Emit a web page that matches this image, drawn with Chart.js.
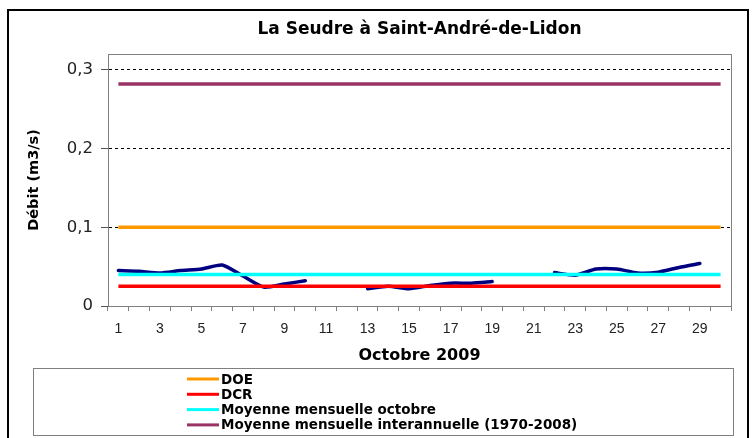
<!DOCTYPE html>
<html>
<head>
<meta charset="utf-8">
<script src="https://cdn.jsdelivr.net/npm/chart.js@4/dist/chart.umd.min.js"></script>
<style>
  html, body { margin: 0; padding: 0; background: #fff; }
  #chart { display: block; }
</style>
</head>
<body>
<canvas id="chart" width="755" height="438"></canvas>
<script>
// days of October 2009
var days = ['1', '2', '3', '4', '5', '6', '7', '8', '9', '10',
            '11', '12', '13', '14', '15', '16', '17', '18', '19', '20',
            '21', '22', '23', '24', '25', '26', '27', '28', '29', '30'];

// daily flow (m3/s), null = no measure
var debit = [0.045, 0.044, 0.042, 0.045, 0.047, 0.052, 0.038, 0.024, 0.028, 0.032,
             null, null, 0.022, 0.025, 0.022, 0.026, 0.029, 0.029, 0.031, null,
             null, 0.0425, 0.039, 0.047, 0.047, 0.042, 0.043, 0.049, 0.054, null];

// reference levels
var doe = 0.1;
var dcr = 0.025;
var moyOctobre = 0.04;
var moyInterannuelle = 0.282;

var yTicks = [0, 0.1, 0.2, 0.3];

var first = days[0];
var last = days[days.length - 1];

var wideFont = '"DejaVu Sans", Verdana, sans-serif';
Chart.defaults.font.family = '"Liberation Sans", Arial, sans-serif';
Chart.defaults.color = '#222';

var framePlugin = {
    id: 'frame',
    beforeDraw: function (chart) {
        var ctx = chart.ctx;
        ctx.save();
        ctx.fillStyle = '#fff';
        ctx.fillRect(0, 0, chart.width, chart.height);
        ctx.restore();
    },
    beforeDatasetsDraw: function (chart) {
        var a = chart.chartArea;
        var ctx = chart.ctx;
        ctx.save();
        ctx.strokeStyle = '#808080';
        ctx.lineWidth = 1;
        ctx.strokeRect(Math.round(a.left) + 0.5, Math.round(a.top) + 0.5,
            Math.round(a.right - a.left), Math.round(a.bottom - a.top));
        ctx.restore();
    },
    afterDraw: function (chart) {
        var ctx = chart.ctx;
        ctx.save();
        // outer frame
        ctx.strokeStyle = '#000';
        ctx.lineWidth = 2;
        ctx.strokeRect(8, 10, 740, 440);

        // legend box
        ctx.strokeStyle = '#808080';
        ctx.lineWidth = 1;
        ctx.strokeRect(33.5, 368.5, 700, 67);

        ctx.font = 'bold 13.5px ' + wideFont;
        ctx.textBaseline = 'middle';
        ctx.textAlign = 'left';
        var row = 0;
        chart.data.datasets.forEach(function (ds) {
            if (ds.label === 'Débit') return;
            var y = 379 + row * 15.3;
            ctx.strokeStyle = ds.borderColor;
            ctx.lineWidth = 3;
            ctx.beginPath();
            ctx.moveTo(187, y);
            ctx.lineTo(219, y);
            ctx.stroke();
            ctx.fillStyle = '#000';
            ctx.fillText(ds.label, 221, y + 1);
            row++;
        });
        ctx.restore();
    }
};

function levelLine(label, value, color) {
    return {
        label: label,
        data: [{ x: first, y: value }, { x: last, y: value }],
        borderColor: color,
        backgroundColor: color,
        borderWidth: 3.5,
        pointRadius: 0,
        fill: false
    };
}

var chart = new Chart(document.getElementById('chart'), {
    type: 'line',
    plugins: [framePlugin],
    data: {
        labels: days,
        datasets: [
            levelLine('DOE', doe, '#FF9900'),
            levelLine('DCR', dcr, '#FF0000'),
            levelLine('Moyenne mensuelle octobre', moyOctobre, '#00FFFF'),
            levelLine('Moyenne mensuelle interannuelle (1970-2008)', moyInterannuelle, '#993366'),
            {
                label: 'Débit',
                data: debit,
                borderColor: '#000080',
                backgroundColor: '#000080',
                borderWidth: 3.5,
                borderCapStyle: 'round',
                borderJoinStyle: 'round',
                tension: 0.2,
                pointRadius: 0,
                fill: false
            }
        ]
    },
    options: {
        responsive: false,
        animation: false,
        layout: {
            padding: { left: 0, right: 24, top: 0, bottom: 73 }
        },
        plugins: {
            legend: { display: false },
            tooltip: { enabled: false },
            title: {
                display: true,
                fullSize: false,
                text: 'La Seudre à Saint-André-de-Lidon',
                color: '#000',
                font: { family: wideFont, size: 17, weight: 'bold' },
                padding: { top: 19, bottom: 14.6 }
            }
        },
        scales: {
            x: {
                offset: true,
                afterFit: function (scale) { scale.height = 59; },
                grid: {
                    offset: true,
                    drawOnChartArea: false,
                    tickLength: 5,
                    tickColor: '#808080'
                },
                border: { color: '#808080' },
                ticks: {
                    autoSkip: false,
                    maxRotation: 0,
                    padding: 10,
                    color: '#222',
                    font: { size: 14 },
                    callback: function (value, index) {
                        return index % 2 === 0 ? this.getLabelForValue(value) : '';
                    }
                },
                title: {
                    display: true,
                    text: 'Octobre 2009',
                    color: '#000',
                    font: { family: wideFont, size: 16, weight: 'bold' },
                    padding: { top: 0, bottom: 0 }
                }
            },
            y: {
                min: 0,
                max: 0.32,
                afterFit: function (scale) { scale.width = 108; },
                afterBuildTicks: function (scale) {
                    scale.ticks = yTicks.map(function (v) { return { value: v }; });
                },
                grid: {
                    color: function (c) { return c.tick && c.tick.value === 0 ? 'rgba(0,0,0,0)' : '#000'; },
                    tickLength: 7,
                    tickColor: '#555'
                },
                border: { color: '#808080', dash: [3, 3] },
                ticks: {
                    padding: 8,
                    color: '#222',
                    font: { family: wideFont, size: 16.5 },
                    callback: function (value) {
                        return String(value).replace('.', ',');
                    }
                },
                title: {
                    display: true,
                    text: 'Débit (m3/s)',
                    color: '#000',
                    font: { family: wideFont, size: 14.5, weight: 'bold' },
                    padding: { top: 26, bottom: 0 }
                }
            }
        }
    }
});
</script>
</body>
</html>
